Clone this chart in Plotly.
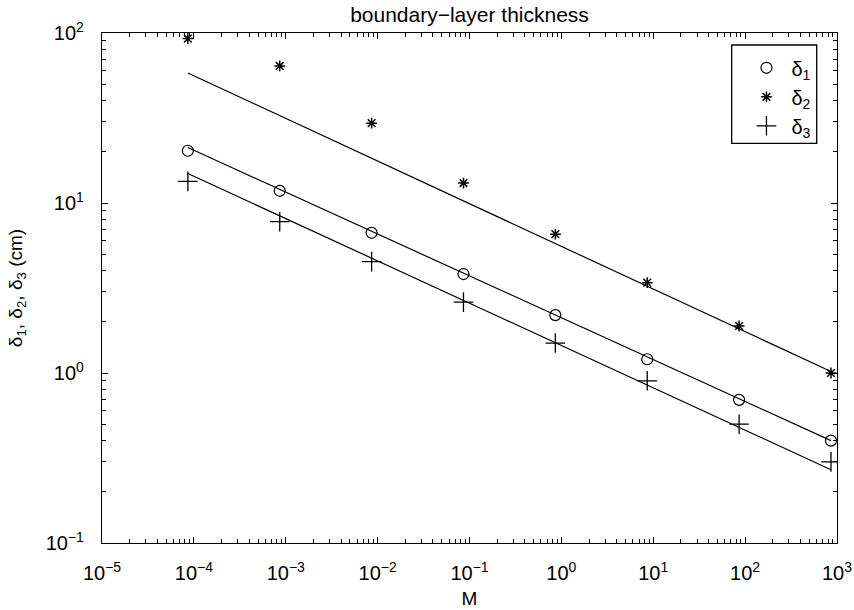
import plotly.graph_objects as go

# Data
M = [8.6e-5, 8.6e-4, 8.6e-3, 8.6e-2, 8.6e-1, 8.6, 86, 860]
delta1 = [20.3, 11.8, 6.68, 3.82, 2.19, 1.205, 0.695, 0.40]
delta2 = [92.7, 64.0, 29.5, 13.1, 6.56, 3.40, 1.89, 1.0]
delta3 = [13.4, 7.76, 4.52, 2.61, 1.50, 0.90, 0.50, 0.30]

# fitted power-law lines (end points)
fit_x = [8.6e-5, 860]
fit_d1 = [21.2, 0.40]
fit_d2 = [58.2, 1.02]
fit_d3 = [14.9, 0.27]

x_exps = [-5, -4, -3, -2, -1, 0, 1, 2, 3]
y_exps = [-1, 0, 1, 2]

FONT = "Liberation Sans, Arial, Helvetica, sans-serif"

def sup_labels(exps):
    return ["10<sup>%s</sup>" % (str(e).replace("-", "\u2212")) for e in exps]

def minor_vals(exps):
    return [m * 10 ** e for e in exps[:-1] for m in range(2, 10)]

fig = go.Figure()

for fy in (fit_d2, fit_d1, fit_d3):
    fig.add_trace(go.Scatter(x=fit_x, y=fy, mode="lines",
                             line=dict(color="black", width=1.2),
                             showlegend=False, hoverinfo="skip"))

fig.add_trace(go.Scatter(x=M, y=delta1, mode="markers", name="δ<sub>1</sub>",
                         marker=dict(symbol="circle-open", size=11, color="black",
                                     line=dict(width=1.2, color="black"))))
fig.add_trace(go.Scatter(x=M, y=delta2, mode="markers", name="δ<sub>2</sub>",
                         marker=dict(symbol="asterisk-open", size=9, color="black",
                                     line=dict(width=1.5, color="black"))))
fig.add_trace(go.Scatter(x=M, y=delta3, mode="markers", name="δ<sub>3</sub>",
                         marker=dict(symbol="cross-thin-open", size=14, color="black",
                                     line=dict(width=1.3, color="black"))))

axis_common = dict(
    type="log", showline=True, linecolor="black", linewidth=1.3, mirror="ticks",
    ticks="inside", ticklen=6, tickcolor="black", tickwidth=1,
    showgrid=False, zeroline=False, automargin=False,
    tickfont=dict(family=FONT, size=20, color="black"),
)

fig.update_xaxes(
    **axis_common,
    range=[-5, 3],
    tickmode="array", tickvals=[10 ** e for e in x_exps], ticktext=sup_labels(x_exps),
    ticklabelstandoff=12,
    minor=dict(tickmode="array", tickvals=minor_vals(x_exps), ticks="inside",
               ticklen=4, tickcolor="black", showgrid=False),
    title=dict(text="M", font=dict(family=FONT, size=19, color="black"), standoff=8),
)
fig.update_yaxes(
    **axis_common,
    range=[-1, 2],
    tickmode="array", tickvals=[10 ** e for e in y_exps], ticktext=sup_labels(y_exps),
    ticklabelstandoff=13,
    minor=dict(tickmode="array", tickvals=minor_vals(y_exps), ticks="inside",
               ticklen=4, tickcolor="black", showgrid=False),
    title=dict(text="δ<sub>1</sub>, δ<sub>2</sub>, δ<sub>3</sub> (cm)",
               font=dict(family=FONT, size=19, color="black"), standoff=17),
)

fig.add_shape(type="rect", xref="paper", yref="paper",
              x0=0.8567, x1=0.9724, y0=0.7837, y1=0.9765,
              line=dict(color="black", width=1.3), fillcolor="white", layer="above")

fig.update_layout(
    width=854, height=610,
    margin=dict(l=102, r=17, t=33, b=67),
    paper_bgcolor="white", plot_bgcolor="white",
    title=dict(text="boundary\u2212layer thickness", x=0.5, xanchor="center",
               xref="paper", y=1, yref="container", yanchor="top", pad=dict(t=7),
               font=dict(family=FONT, size=21, color="black")),
    legend=dict(x=0.870, y=0.97, xanchor="left", yanchor="top",
                bgcolor="rgba(0,0,0,0)", borderwidth=0,
                font=dict(family=FONT, size=20, color="black"),
                tracegroupgap=0, itemwidth=40),
    showlegend=True,
)

fig.write_html("out.html")
